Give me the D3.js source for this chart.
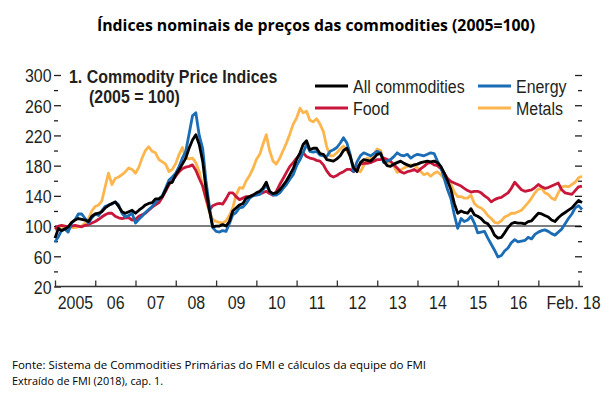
<!DOCTYPE html>
<html>
<head>
<meta charset="utf-8">
<script src="https://cdn.jsdelivr.net/npm/d3@7"></script>
<style>
  body { margin: 0; background: #fff; }
  svg { display: block; }
  .axis text, .narrow { font-family: 'Liberation Sans', Arial, sans-serif; font-size: 19px; fill: #231f20; }
</style>
</head>
<body>
<div id="chart"></div>
<script>
// monthly index values, Jan 2005 .. Feb 2018 (2005 = 100)
var allComm = [
  84, 97, 94, 96, 99, 105, 108, 110, 109, 108, 106, 113,
  116, 117, 119, 124, 127, 130, 132, 126, 119, 117, 119, 121,
  117, 121, 124, 128, 130, 131, 136, 136, 139, 148, 157, 158,
  168, 175, 182, 190, 203, 214, 221, 208, 186, 150, 121, 99,
  100, 100, 102, 100, 106, 120, 124, 128, 130, 137, 139, 141,
  144, 146, 150, 158, 146, 143, 144, 148, 154, 160, 168, 176,
  188, 197, 208, 213, 201, 203, 203, 196, 195, 188, 187, 186,
  189, 193, 200, 203, 192, 177, 172, 184, 188, 187, 186, 190,
  195, 196, 186, 180, 179, 182, 184, 186, 183, 181, 179, 181,
  182, 184, 185, 186, 185, 186, 184, 179, 170, 160, 148, 130,
  117, 120, 118, 117, 123, 115, 113, 110, 105, 103, 97, 88,
  84, 85, 91, 98, 103, 105, 104, 104, 103, 106, 107, 112,
  117, 116, 114, 112, 108, 106, 111, 115, 118, 121, 124, 129,
  134, 131
];
var energy = [
  79, 86, 94, 96, 92, 104, 108, 116, 116, 110, 104, 111,
  116, 114, 120, 126, 128, 129, 132, 128, 117, 112, 114, 117,
  104, 109, 113, 118, 122, 126, 131, 136, 140, 150, 161, 165,
  170, 179, 190, 199, 222, 246, 250, 220, 203, 160, 126, 98,
  93, 92, 94, 93, 103, 115, 118, 124, 125, 130, 137, 140,
  141, 142, 148, 154, 146, 141, 141, 144, 150, 155, 162, 168,
  180, 188, 197, 208, 199, 198, 199, 194, 193, 192, 199, 201,
  204, 210, 217, 210, 195, 172, 185, 193, 197, 195, 193, 196,
  199, 197, 184, 186, 188, 192, 197, 194, 193, 195, 190, 193,
  195, 194, 193, 195, 197, 196, 186, 178, 163, 148, 136, 115,
  97, 110, 106, 108, 113, 104, 91, 92, 93, 84, 76, 68,
  59, 61, 67, 71, 78, 82, 79, 80, 81, 85, 83, 89,
  92, 94, 95, 93, 90, 88, 92, 96, 103, 110, 116, 124,
  127, 122
];
var food = [
  96, 100, 101, 100, 99, 100, 101, 100, 99, 101, 102, 104,
  106, 109, 112, 115, 117, 117, 113, 111, 110, 111, 111, 108,
  109, 113, 115, 117, 121, 125, 128, 131, 138, 146, 155, 161,
  166, 172, 176, 178, 179, 181, 174, 163, 153, 137, 121, 127,
  129, 130, 129, 136, 144, 144, 139, 135, 137, 139, 139, 141,
  142, 143, 144, 146, 143, 141, 146, 155, 163, 171, 179, 184,
  190, 195, 197, 192, 190, 189, 187, 186, 181, 173, 167, 165,
  167, 170, 172, 175, 175, 172, 178, 182, 183, 183, 184, 186,
  188, 188, 190, 188, 186, 181, 177, 172, 170, 172, 173, 175,
  172, 176, 179, 183, 184, 181, 180, 176, 170, 163, 159, 157,
  155, 153, 150, 147, 145, 146, 146, 144, 140, 137, 132, 135,
  137, 138, 141, 144, 150, 158, 153, 148, 146, 147, 148, 151,
  155, 152, 150, 151, 153, 155, 157, 148, 144, 143, 142, 147,
  152, 153
];
var metals = [
  95, 97, 96, 99, 97, 98, 98, 99, 100, 104, 110, 120,
  126, 128, 133, 152, 170, 155, 163, 165, 168, 172, 177, 175,
  170, 178, 190, 200, 205, 199, 197, 188, 185, 182, 172, 175,
  183, 195, 204, 190, 189, 190, 184, 172, 153, 135, 118, 109,
  106, 105, 104, 107, 114, 124, 141, 151, 150, 160, 167, 176,
  188, 195, 208, 221, 200, 186, 182, 190, 200, 210, 222, 235,
  243, 256, 250, 252, 240, 238, 242, 235, 225, 205, 193, 193,
  197, 202, 206, 200, 192, 178, 174, 172, 180, 190, 188, 195,
  202, 200, 186, 184, 186, 179, 171, 174, 177, 179, 181, 180,
  177, 172, 168, 170, 166, 170, 172, 168, 163, 158, 155, 145,
  139, 139, 137, 137, 141, 130, 126, 124, 120, 114, 110, 105,
  104, 107, 112, 114, 117, 117, 119, 121, 126, 131, 137, 144,
  149, 150, 144, 142, 137, 135, 144, 152, 153, 152, 155, 158,
  164, 166
];

var seriesNames = ["All commodities", "Food", "Energy", "Metals"];
var yearLabels = ["2005", "06", "07", "08", "09", "10", "11", "12", "13", "14", "15", "16", "Feb. 18"];
var yTicks = [20, 60, 100, 140, 180, 220, 260, 300];
var yMinor = [40, 80, 120, 160, 200, 240, 280];

var colors = { "All commodities": "#000000", "Food": "#c8173a", "Energy": "#1a6cb5", "Metals": "#fdb64e" };

var W = 611, H = 393;
var SX = 0.84;   // horizontal squeeze, stands in for a condensed face
var months = d3.timeMonth.range(new Date(2005, 0, 1), new Date(2018, 2, 1));

var svg = d3.select("#chart").append("svg")
    .attr("width", W)
    .attr("height", H);

svg.append("rect").attr("width", W).attr("height", H).attr("fill", "#fff");

// narrow text placed at (x,y)
function narrowText(x, y, str, bold) {
  return svg.append("text").attr("class", "narrow")
      .attr("transform", "translate(" + x + "," + y + ") scale(" + SX + ",1)")
      .attr("font-weight", bold ? 700 : 400)
      .text(str);
}

// scales
var x = d3.scaleTime()
    .domain([new Date(2005, 0, 1), new Date(2018, 1, 1)])
    .range([55, 582]);
var y = d3.scaleLinear()
    .domain([20, 300])
    .range([286.5, 75]);

// main title
svg.append("text")
    .attr("x", 316).attr("y", 31)
    .attr("text-anchor", "middle")
    .attr("font-family", "'Open Sans', sans-serif")
    .attr("font-weight", 700)
    .attr("font-size", 16.5)
    .attr("textLength", 438)
    .attr("lengthAdjust", "spacingAndGlyphs")
    .attr("fill", "#000")
    .text("Índices nominais de preços das commodities (2005=100)");

// y axes (left and right), major + minor ticks pointing inward
var leftAx = svg.append("g").attr("class", "axis")
    .attr("transform", "translate(54,0)")
    .call(d3.axisLeft(y).tickValues(yTicks).tickSize(-7).tickPadding(2))
    .call(g => g.select(".domain").remove());
leftAx.selectAll(".tick text")
    .attr("x", -2.5 / SX)
    .attr("dy", "0.36em")
    .attr("transform", "scale(" + SX + ",1)");
svg.append("g").attr("class", "axis")
    .attr("transform", "translate(54,0)")
    .call(d3.axisLeft(y).tickValues(yMinor).tickSize(-4).tickFormat(""))
    .call(g => g.select(".domain").remove());
svg.append("g").attr("class", "axis")
    .attr("transform", "translate(582,0)")
    .call(d3.axisRight(y).tickValues(yTicks.slice(1)).tickSize(-7).tickFormat(""))
    .call(g => g.select(".domain").remove());
svg.append("g").attr("class", "axis")
    .attr("transform", "translate(582,0)")
    .call(d3.axisRight(y).tickValues(yMinor).tickSize(-4).tickFormat(""))
    .call(g => g.select(".domain").remove());
svg.selectAll(".axis line").attr("stroke", "#231f20").attr("stroke-width", 1.3);

// x axis: year ticks upward, labels mid-year
var years = d3.timeYear.range(new Date(2005, 0, 1), new Date(2018, 1, 1));
var xAxisG = svg.append("g").attr("class", "axis")
    .attr("transform", "translate(0," + y(20) + ")")
    .call(d3.axisBottom(x).tickValues(years).tickSize(-6).tickSizeOuter(0).tickFormat(""));
xAxisG.select(".domain").attr("stroke", "#333").attr("stroke-width", 1.6)
    .attr("d", "M55,0H583");
xAxisG.selectAll("line").attr("stroke", "#333").attr("stroke-width", 1.3);

var labelDates = yearLabels.map(function (d, i) {
  return i < yearLabels.length - 1 ? new Date(2005 + i, 6, 1) : new Date(2018, 1, 1);
});
var last = yearLabels.length - 1;
var xLab = svg.append("g").attr("class", "axis")
    .attr("transform", "translate(0," + y(20) + ")")
    .call(d3.axisBottom(x).tickValues(labelDates).tickSize(0).tickPadding(9)
      .tickFormat(function (d, i) { return yearLabels[i]; }));
xLab.select(".domain").remove();
xLab.selectAll(".tick text")
    .attr("text-anchor", function (d, i) { return i === last ? "end" : "middle"; })
    .attr("x", function (d, i) { return i === last ? 18 / SX : 0; })
    .attr("dy", "0.71em")
    .attr("transform", "scale(" + SX + ",1)");

// reference line at 100
svg.append("line")
    .attr("x1", 55).attr("x2", 581)
    .attr("y1", y(100)).attr("y2", y(100))
    .attr("stroke", "#000").attr("stroke-width", 1.1);

// series lines
var line = d3.line()
    .x(function (d, i) { return x(months[i]); })
    .y(function (d) { return y(d); });

var drawOrder = [["Metals", metals], ["Food", food], ["Energy", energy], ["All commodities", allComm]];
drawOrder.forEach(function (s) {
  svg.append("path")
      .datum(s[1])
      .attr("fill", "none")
      .attr("stroke", colors[s[0]])
      .attr("stroke-width", 2.8)
      .attr("stroke-linejoin", "round")
      .attr("d", line);
});

// panel title
narrowText(69, 83, "1. Commodity Price Indices", true);
narrowText(89, 103, "(2005 = 100)", true);

// legend
var legendPos = [
  { name: "All commodities", x: 315, y: 86 },
  { name: "Food", x: 315, y: 108 },
  { name: "Energy", x: 478, y: 86 },
  { name: "Metals", x: 478, y: 108 }
];
var leg = svg.selectAll(".leg").data(legendPos).enter().append("g")
    .attr("class", "leg")
    .attr("transform", function (d) { return "translate(" + d.x + "," + d.y + ")"; });
leg.append("line")
    .attr("x1", 0).attr("x2", 33)
    .attr("stroke", function (d) { return colors[d.name]; })
    .attr("stroke-width", 3.2);
leg.append("text").attr("class", "narrow")
    .attr("transform", "translate(38,0) scale(" + SX + ",1)")
    .attr("dy", "0.36em")
    .text(function (d) { return d.name; });

// source notes
svg.append("text")
    .attr("x", 12).attr("y", 369)
    .attr("font-family", "'Open Sans', sans-serif")
    .attr("font-size", 11.5)
    .attr("textLength", 414)
    .attr("lengthAdjust", "spacingAndGlyphs")
    .attr("fill", "#000")
    .text("Fonte: Sistema de Commodities Primárias do FMI e cálculos da equipe do FMI");
svg.append("text")
    .attr("x", 12).attr("y", 385)
    .attr("font-family", "'Open Sans', sans-serif")
    .attr("font-size", 11.5)
    .attr("textLength", 151)
    .attr("lengthAdjust", "spacingAndGlyphs")
    .attr("fill", "#000")
    .text("Extraído de FMI (2018), cap. 1.");
</script>
</body>
</html>
